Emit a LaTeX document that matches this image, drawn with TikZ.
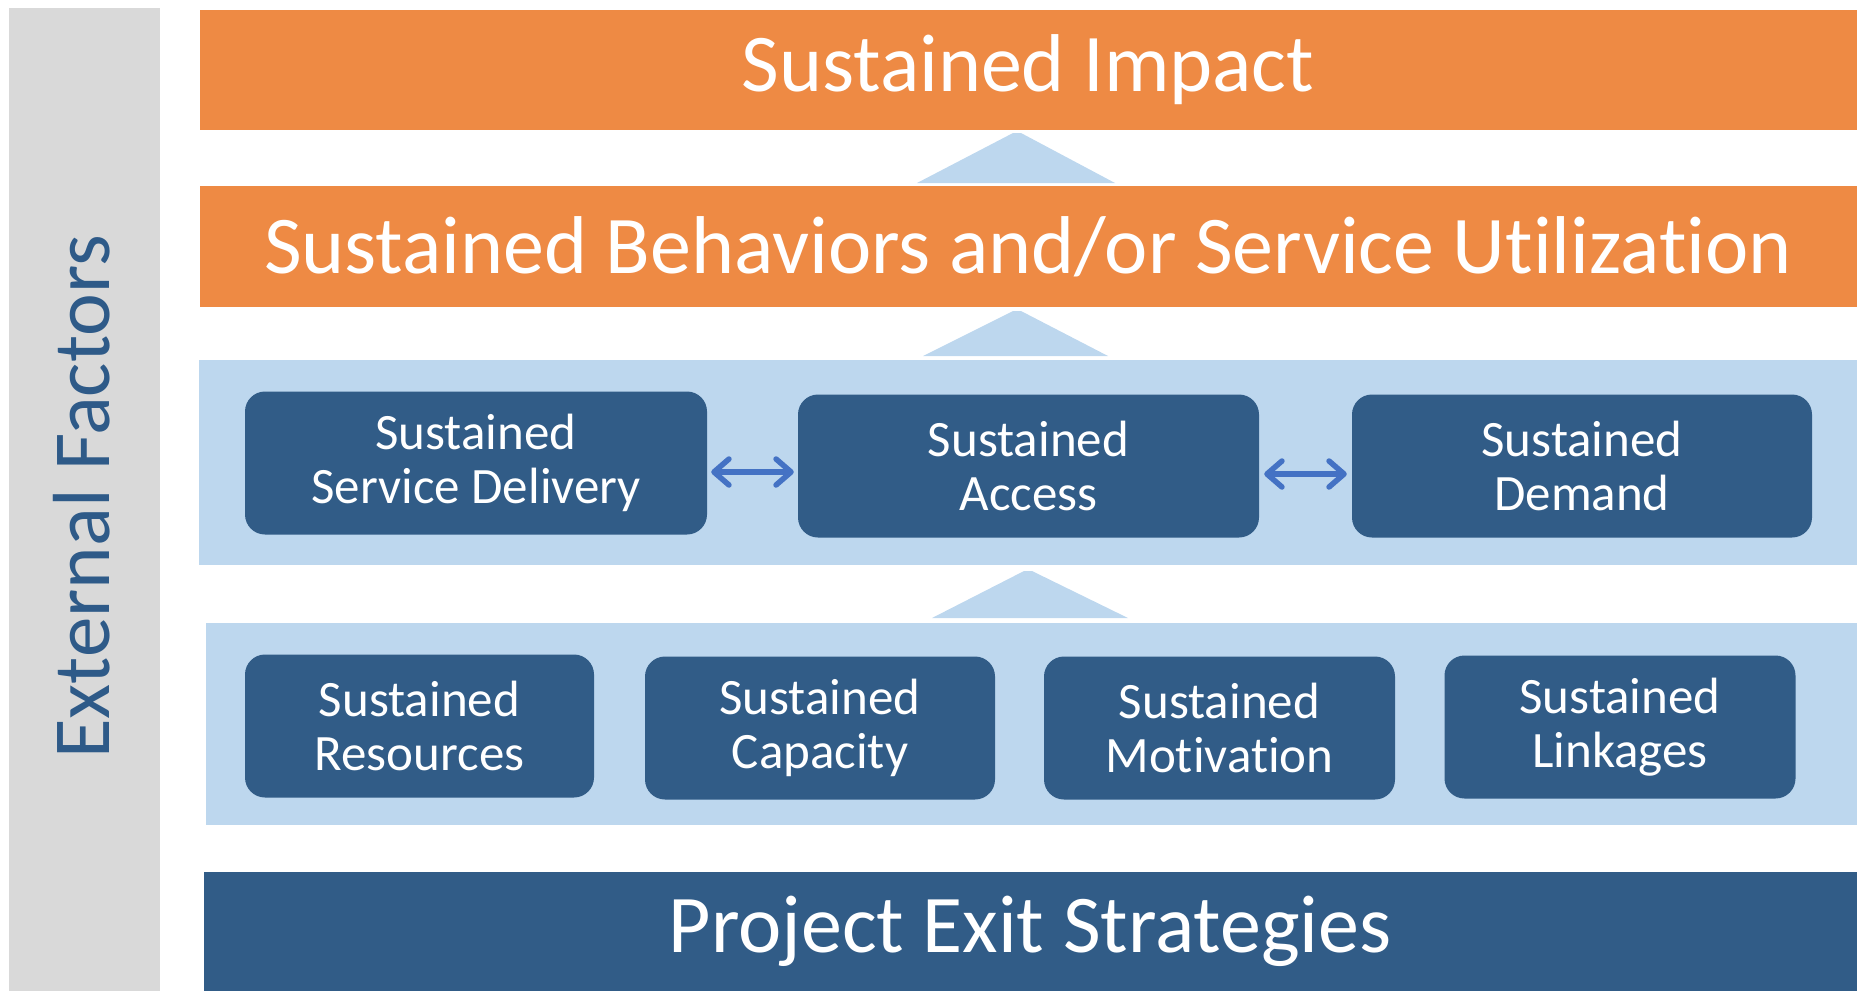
\documentclass[tikz,border=0pt]{standalone}
\usepackage{fontspec}
\setmainfont{Carlito}[Ligatures=NoCommon]
\usetikzlibrary{arrows.meta}
\definecolor{orng}{HTML}{EE8A44}
\definecolor{lblue}{HTML}{BDD7EE}
\definecolor{dblue}{HTML}{315C87}
\definecolor{gry}{HTML}{D9D9D9}
\definecolor{arr}{HTML}{4472C4}
\definecolor{txtblue}{HTML}{2E5A88}
\begin{document}
\begin{tikzpicture}[x=1pt,y=-1pt,
  bigtext/.style={text=white, font=\fontsize{82}{90}\selectfont},
  boxtxt/.style={text=white, font=\fontsize{51}{54}\selectfont, align=center},
  sbox/.style={fill=dblue, draw=none, rounded corners=20pt, minimum width=#1, minimum height=143pt, inner sep=0pt},
  uptri/.style={fill=lblue, draw=none},
  dbl/.style={draw=arr, line width=5.5pt, line cap=round, {Straight Barb[length=15pt,width=26pt,line cap=round,line join=round]}-{Straight Barb[length=15pt,width=26pt,line cap=round,line join=round]}}
]
\useasboundingbox (0,0) rectangle (1857,991);
% gray side bar
\fill[gry] (9,8) rectangle (160,991);
\node[rotate=90, text=txtblue, font=\fontsize{81}{90}\selectfont] (ext) at (82,497) {External Factors};
% top bands
\fill[orng] (200,10) rectangle (1857,130);
\node[bigtext] (impact) at (1028,70) {Sustained Impact};
\fill[uptri] (917,183) -- (1013,133) -- (1021,133) -- (1115,183) -- cycle;
\fill[orng] (200,186) rectangle (1857,307);
\node[bigtext] (behav) at (1028,247) {Sustained Behaviors and/or Service Utilization};
\fill[uptri] (923,356) -- (1013,311) -- (1021,311) -- (1108,356) -- cycle;
% band 1
\fill[lblue] (199,360) rectangle (1857,565);
\node[sbox=462pt] (sd) at (476,463) {};
\node[boxtxt] at (sd) {Sustained\\Service Delivery};
\node[sbox=461pt] (sa) at (1028.5,466) {};
\node[boxtxt] at (sa) {Sustained\\Access};
\node[sbox=460pt] (sdm) at (1582,466) {};
\node[boxtxt] at (sdm) {Sustained\\Demand};
\draw[dbl] ([yshift=-9pt,xshift=4pt]sd.east) -- ([yshift=-6pt,xshift=-4pt]sa.west);
\draw[dbl] ([yshift=-8pt,xshift=5pt]sa.east) -- ([yshift=-8pt,xshift=-5pt]sdm.west);
\fill[uptri] (932,618) -- (1024,571) -- (1032,571) -- (1128,618) -- cycle;
% band 2
\fill[lblue] (206,623) rectangle (1857,825);
\node[sbox=349pt] (res) at (419.5,726) {};
\node[boxtxt] at (res) {Sustained\\Resources};
\node[sbox=350pt] (cap) at (820,728) {};
\node[boxtxt] at (cap) {Sustained\\Capacity};
\node[sbox=351pt] (mot) at (1219.5,728) {};
\node[boxtxt] at (mot) {Sustained\\Motivation};
\node[sbox=351pt] (lnk) at (1620,727) {};
\node[boxtxt] at (lnk) {Sustained\\Linkages};
% bottom
\fill[dblue] (204,872) rectangle (1857,991);
\node[bigtext] (exit) at (1030,931) {Project Exit Strategies};
\end{tikzpicture}
\end{document}
